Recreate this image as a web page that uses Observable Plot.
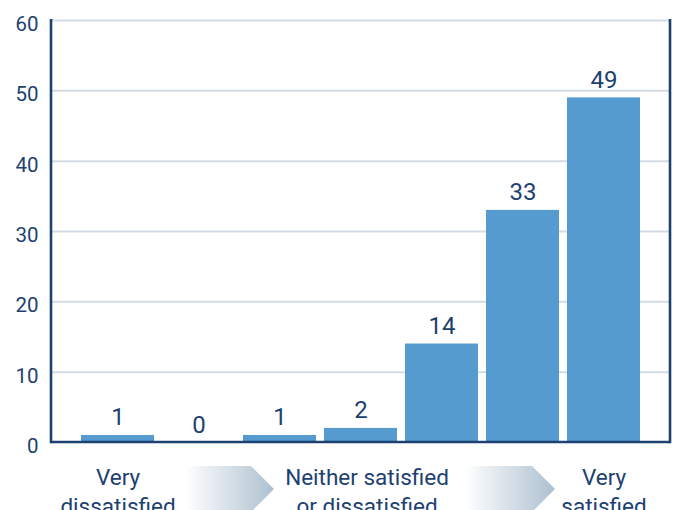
<!DOCTYPE html>
<html><head><meta charset="utf-8">
<script src="https://cdn.jsdelivr.net/npm/d3@7"></script>
<script src="https://cdn.jsdelivr.net/npm/@observablehq/plot@0.6"></script>
<style>body{margin:0;background:#fff;overflow:hidden}</style>
</head><body><div id="chart"></div>
<script>
const categories = ["1","2","3","4","5","6","7"];
const values = [1, 0, 1, 2, 14, 33, 49];
const yTicks = [0, 10, 20, 30, 40, 50, 60];
const groupCats = ["1", "4", "7"];
const groupLabels = ["Very\ndissatisfied", "Neither satisfied\nor dissatisfied", "Very\nsatisfied"];
// arrows between the group labels: [from category, fraction of band, to category, fraction of band]
const arrowSpans = [["2", 0.315, "3", 0.425], ["5", 0.82, "6", 0.945]];

const data = categories.map((c, i) => ({cat: c, value: values[i]}));
const groups = groupCats.map((c, i) => ({cat: c, label: groupLabels[i], shift: i === 1 ? 6 : 0}));
const navy = "#1d4170";
const barColor = "#559bd0";
const gridColor = "#d3dbe4";

function decor(index, scales, vals, dims) {
  const {width, height, marginLeft, marginRight, marginTop, marginBottom} = dims;
  const x = scales.x, bw = x.bandwidth();
  const g = d3.create("svg:g");
  const grad = g.append("defs").append("linearGradient").attr("id", "arrowGrad")
    .attr("x1", "0").attr("x2", "1").attr("y1", "0").attr("y2", "0");
  grad.append("stop").attr("offset", "0").attr("stop-color", "#ffffff");
  grad.append("stop").attr("offset", "1").attr("stop-color", "#adc0d0");
  const base = height - marginBottom;
  const top = base + 24, mid = base + 47, bot = base + 70;
  for (const [c0, f0, c1, f1] of arrowSpans) {
    const xa = x(c0) + f0 * bw, xt = x(c1) + f1 * bw, xb = xt - (mid - top);
    g.append("polygon")
      .attr("points", `${xa},${top} ${xb},${top} ${xt},${mid} ${xb},${bot} ${xa},${bot}`)
      .attr("fill", "url(#arrowGrad)");
  }
  const lines = g.append("g").attr("stroke", navy).attr("stroke-width", 2.6).attr("fill", "none");
  lines.append("line").attr("x1", marginLeft).attr("x2", marginLeft).attr("y1", marginTop - 1).attr("y2", base + 1.3);
  lines.append("line").attr("x1", width - marginRight).attr("x2", width - marginRight).attr("y1", marginTop - 1).attr("y2", base + 1.3);
  lines.append("line").attr("x1", marginLeft).attr("x2", width - marginRight).attr("y1", base).attr("y2", base);
  return g.node();
}

const chart = Plot.plot({
  width: 676,
  height: 510,
  marginLeft: 51,
  marginRight: 6,
  marginTop: 20,
  marginBottom: 68,
  style: {fontFamily: "Roboto, sans-serif", fontSize: "20px", color: navy, background: "#fff", overflow: "visible"},
  x: {domain: categories, paddingInner: 8 / 81, paddingOuter: 0.37, axis: null},
  y: {domain: [0, 60], axis: null},
  marks: [
    Plot.ruleY(yTicks.filter(d => d > 0), {stroke: gridColor, strokeWidth: 2}),
    Plot.axisY(yTicks, {tickSize: 0, tickPadding: 13, dy: 4, fontSize: 20.5, fill: navy, label: null, tickFormat: d => String(d)}),
    Plot.barY(data, {x: "cat", y: "value", fill: barColor}),
    Plot.text(data, {x: "cat", y: "value", text: d => String(d.value), dy: -10, lineAnchor: "bottom", fontSize: 24, fill: navy}),
    decor,
    Plot.text(groups.filter(d => !d.shift), {x: "cat", text: "label", frameAnchor: "bottom", lineAnchor: "top", dy: 23, fontSize: 22.5, lineHeight: 1.25, fill: navy}),
    Plot.text(groups.filter(d => d.shift), {x: "cat", text: "label", frameAnchor: "bottom", lineAnchor: "top", dy: 23, dx: 6, fontSize: 22.5, lineHeight: 1.25, fill: navy})
  ]
});
document.getElementById("chart").appendChild(chart);
</script>
</body></html>
